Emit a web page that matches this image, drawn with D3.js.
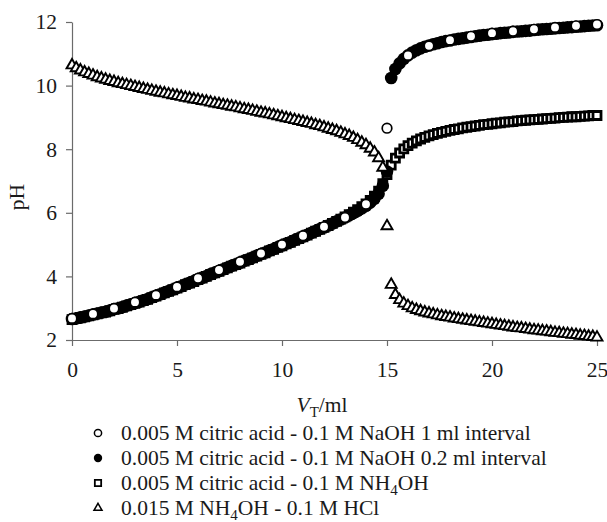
<!DOCTYPE html>
<html>
<head>
<meta charset="utf-8">
<script src="https://cdn.jsdelivr.net/npm/d3@7"></script>
<style>
  body { margin: 0; background: #fff; }
  svg text { font-family: "Liberation Serif", "Times New Roman", "DejaVu Serif", serif; }
</style>
</head>
<body>
<div id="chart"></div>
<script>
// --- data ---
const xTicks = [0, 5, 10, 15, 20, 25];
const yTicks = [2, 4, 6, 8, 10, 12];

// 0.005 M citric acid - 0.1 M NaOH, 1 ml interval (V = 0..25 ml)
const naoh1Step = 1;
const naoh1 = [2.68, 2.82, 2.99, 3.19, 3.41, 3.67, 3.94, 4.20, 4.46, 4.72,
  5.00, 5.28, 5.56, 5.85, 6.27, 8.66, 10.95, 11.25, 11.43, 11.55,
  11.65, 11.71, 11.77, 11.83, 11.88, 11.92];

// 0.005 M citric acid - 0.1 M NaOH, 0.2 ml interval
const naoh02Step = 0.2;
const naoh02 = [2.66, 2.68, 2.71, 2.74, 2.77, 2.80, 2.83, 2.86, 2.89, 2.93,
  2.97, 3.00, 3.04, 3.08, 3.12, 3.16, 3.20, 3.25, 3.29, 3.34,
  3.39, 3.44, 3.49, 3.54, 3.59, 3.64, 3.69, 3.75, 3.80, 3.85,
  3.91, 3.96, 4.01, 4.07, 4.12, 4.17, 4.22, 4.28, 4.33, 4.38,
  4.43, 4.49, 4.54, 4.59, 4.65, 4.70, 4.75, 4.81, 4.86, 4.92,
  4.97, 5.03, 5.08, 5.14, 5.20, 5.25, 5.31, 5.37, 5.43, 5.49,
  5.54, 5.60, 5.66, 5.73, 5.79, 5.85, 5.92, 5.99, 6.06, 6.14,
  6.22, 6.32, 6.44, 6.60, 6.85, 7.30,
  10.24, 10.52, 10.70, 10.84, 10.95, 11.04, 11.11, 11.17, 11.22, 11.26,
  11.30, 11.33, 11.37, 11.40, 11.42, 11.45, 11.47, 11.49, 11.51, 11.53,
  11.55, 11.57, 11.59, 11.60, 11.62, 11.63, 11.65, 11.66, 11.67, 11.69,
  11.70, 11.71, 11.72, 11.73, 11.75, 11.76, 11.77, 11.78, 11.79, 11.80,
  11.81, 11.82, 11.83, 11.84, 11.85, 11.86, 11.87, 11.88, 11.89, 11.90];

// 0.005 M citric acid - 0.1 M NH4OH, 0.2 ml interval
const nh4Step = 0.2;
const nh4 = [2.64, 2.67, 2.70, 2.73, 2.76, 2.79, 2.82, 2.85, 2.88, 2.92,
  2.96, 2.99, 3.03, 3.07, 3.11, 3.15, 3.19, 3.24, 3.28, 3.33,
  3.38, 3.43, 3.48, 3.53, 3.58, 3.63, 3.68, 3.74, 3.79, 3.84,
  3.90, 3.95, 4.00, 4.06, 4.11, 4.16, 4.21, 4.27, 4.32, 4.37,
  4.42, 4.48, 4.53, 4.58, 4.64, 4.69, 4.74, 4.80, 4.85, 4.91,
  4.96, 5.02, 5.07, 5.13, 5.19, 5.24, 5.30, 5.36, 5.42, 5.48,
  5.54, 5.60, 5.67, 5.73, 5.80, 5.87, 5.94, 6.02, 6.10, 6.19,
  6.28, 6.39, 6.52, 6.68, 6.92, 7.20, 7.50, 7.72, 7.88, 8.01,
  8.11, 8.19, 8.26, 8.32, 8.37, 8.42, 8.46, 8.50, 8.53, 8.56,
  8.59, 8.62, 8.64, 8.67, 8.69, 8.71, 8.73, 8.75, 8.77, 8.78,
  8.80, 8.82, 8.83, 8.85, 8.86, 8.87, 8.89, 8.90, 8.91, 8.92,
  8.93, 8.94, 8.95, 8.96, 8.97, 8.98, 8.99, 9.00, 9.01, 9.02,
  9.02, 9.03, 9.04, 9.05, 9.06, 9.06];

// 0.015 M NH4OH - 0.1 M HCl, 0.2 ml interval
const hclStep = 0.2;
const hcl = [10.64, 10.55, 10.48, 10.42, 10.37, 10.32, 10.27, 10.23, 10.19, 10.15,
  10.12, 10.08, 10.05, 10.02, 9.99, 9.96, 9.93, 9.90, 9.87, 9.84,
  9.81, 9.78, 9.76, 9.73, 9.70, 9.68, 9.65, 9.62, 9.60, 9.57,
  9.55, 9.52, 9.50, 9.47, 9.44, 9.42, 9.39, 9.37, 9.34, 9.32,
  9.29, 9.26, 9.24, 9.21, 9.18, 9.15, 9.13, 9.10, 9.07, 9.04,
  9.01, 8.98, 8.95, 8.92, 8.89, 8.86, 8.83, 8.80, 8.76, 8.73,
  8.69, 8.65, 8.61, 8.57, 8.52, 8.47, 8.42, 8.36, 8.29, 8.21,
  8.13, 8.02, 7.90, 7.72, 7.42, 5.58,
  3.74, 3.42, 3.26, 3.15, 3.07, 3.00, 2.95, 2.91, 2.87, 2.84,
  2.81, 2.78, 2.75, 2.73, 2.71, 2.68, 2.66, 2.64, 2.62, 2.60,
  2.58, 2.56, 2.54, 2.52, 2.50, 2.48, 2.46, 2.44, 2.42, 2.40,
  2.38, 2.37, 2.35, 2.33, 2.31, 2.30, 2.28, 2.27, 2.25, 2.23,
  2.22, 2.20, 2.19, 2.17, 2.16, 2.14, 2.13, 2.11, 2.10, 2.08];

const legendLabels = [
  ["0.005 M citric acid - 0.1 M NaOH 1 ml interval"],
  ["0.005 M citric acid - 0.1 M NaOH 0.2 ml interval"],
  ["0.005 M citric acid - 0.1 M NH", "4", "OH"],
  ["0.015 M NH", "4", "OH - 0.1 M HCl"]
];

// --- chart ---
const width = 607, height = 522;
const marginLeft = 72, marginTop = 22, plotBottom = 340;
const serif = '"Liberation Serif", "Times New Roman", serif';
const fontSize = 21.5;

const x = d3.scaleLinear().domain([0, 25]).range([marginLeft, 597]);
const y = d3.scaleLinear().domain([2, 12]).range([plotBottom, marginTop]);

const toPoints = (vals, step) => vals.map((v, i) => ({ v: i * step, pH: v }));

const svg = d3.select("#chart").append("svg")
    .attr("width", width)
    .attr("height", height)
    .attr("viewBox", [0, 0, width, height]);

// axes
const xAxis = svg.append("g")
    .attr("transform", `translate(0, ${plotBottom})`)
    .call(d3.axisBottom(x).tickValues(xTicks).tickSize(6).tickPadding(16).tickSizeOuter(0));
const yAxis = svg.append("g")
    .attr("transform", `translate(${marginLeft}, 0)`)
    .call(d3.axisLeft(y).tickValues(yTicks).tickSize(6).tickPadding(9).tickSizeOuter(0));

[xAxis, yAxis].forEach(g => {
  g.attr("font-family", serif).attr("font-size", fontSize);
  g.select(".domain").attr("stroke", "#6b6b6b").attr("stroke-width", 1.2);
  g.selectAll(".tick line").attr("stroke", "#6b6b6b").attr("stroke-width", 1.2);
  g.selectAll(".tick text").attr("fill", "#1a1a1a");
});

// axis titles
svg.append("text")
    .attr("transform", `translate(24, 197) rotate(-90)`)
    .attr("text-anchor", "middle")
    .attr("font-size", fontSize)
    .attr("fill", "#1a1a1a")
    .text("pH");

const xTitle = svg.append("text")
    .attr("x", 322)
    .attr("y", 412)
    .attr("text-anchor", "middle")
    .attr("font-size", fontSize)
    .attr("fill", "#1a1a1a");
xTitle.append("tspan").style("font-style", "italic").text("V");
xTitle.append("tspan").attr("dy", 5).attr("font-size", 15).text("T");
xTitle.append("tspan").attr("dy", -5).text("/ml");

// markers
const tri = d3.symbol().type(d3.symbolTriangle);
const sq = d3.symbol().type(d3.symbolSquare);

svg.append("g").selectAll("path")
    .data(toPoints(nh4, nh4Step))
    .join("path")
    .attr("d", sq.size(64))
    .attr("transform", d => `translate(${x(d.v)}, ${y(d.pH)})`)
    .attr("fill", "#fff")
    .attr("stroke", "#000")
    .attr("stroke-width", 2.8);

svg.append("g").selectAll("circle")
    .data(toPoints(naoh02, naoh02Step))
    .join("circle")
    .attr("cx", d => x(d.v))
    .attr("cy", d => y(d.pH))
    .attr("r", 6.3)
    .attr("fill", "#000");

svg.append("g").selectAll("path")
    .data(toPoints(hcl, hclStep))
    .join("path")
    .attr("d", tri.size(52))
    .attr("transform", d => `translate(${x(d.v)}, ${y(d.pH)})`)
    .attr("fill", "#fff")
    .attr("stroke", "#000")
    .attr("stroke-width", 1.9);

svg.append("g").selectAll("circle")
    .data(toPoints(naoh1, naoh1Step))
    .join("circle")
    .attr("cx", d => x(d.v))
    .attr("cy", d => y(d.pH))
    .attr("r", 4.8)
    .attr("fill", "#fff")
    .attr("stroke", "#000")
    .attr("stroke-width", 1.7);

// legend
const legend = svg.append("g");
const legendY = [433, 458, 483, 508];
legendLabels.forEach((parts, i) => {
  const ly = legendY[i];
  const mx = 98;
  if (i === 0) {
    legend.append("circle").attr("cx", mx).attr("cy", ly).attr("r", 3.6)
        .attr("fill", "#fff").attr("stroke", "#000").attr("stroke-width", 1.5);
  } else if (i === 1) {
    legend.append("circle").attr("cx", mx).attr("cy", ly).attr("r", 4.2)
        .attr("fill", "#000");
  } else if (i === 2) {
    legend.append("path").attr("d", sq.size(40)).attr("transform", `translate(${mx}, ${ly})`)
        .attr("fill", "#fff").attr("stroke", "#000").attr("stroke-width", 1.8);
  } else {
    legend.append("path").attr("d", tri.size(28)).attr("transform", `translate(${mx}, ${ly})`)
        .attr("fill", "#fff").attr("stroke", "#000").attr("stroke-width", 1.5);
  }
  const t = legend.append("text")
      .attr("x", 121)
      .attr("y", ly + 7)
      .attr("font-size", fontSize)
      .attr("fill", "#1a1a1a");
  parts.forEach((p, j) => {
    const ts = t.append("tspan").text(p);
    if (parts.length > 1 && j === 1) ts.attr("dy", 5).attr("font-size", 15);
    if (parts.length > 1 && j === 2) ts.attr("dy", -5);
  });
});
</script>
</body>
</html>
